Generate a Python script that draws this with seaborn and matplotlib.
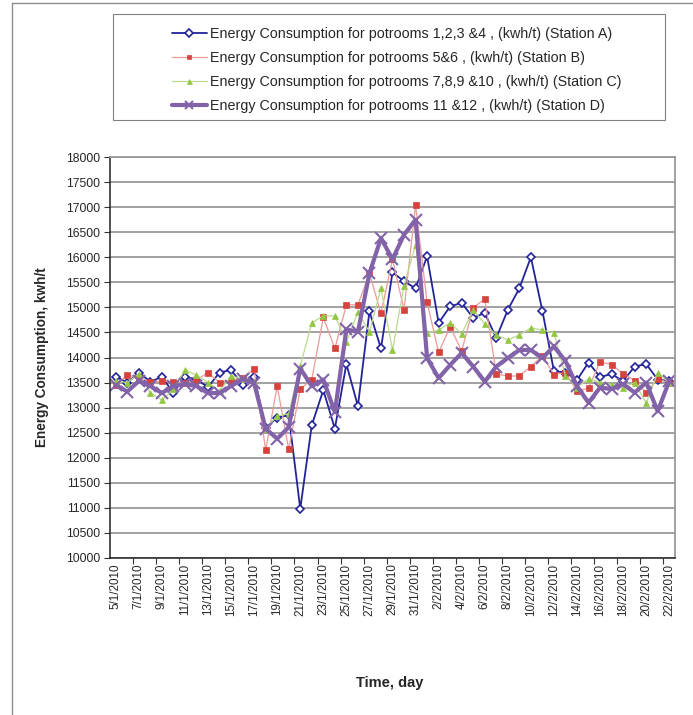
import matplotlib
matplotlib.use("Agg")
import matplotlib.pyplot as plt
from matplotlib.patches import Rectangle
from matplotlib.lines import Line2D
import seaborn as sns
import pandas as pd
import numpy as np

sns.set_theme(style="white")
plt.rcParams['font.family'] = ['Liberation Sans', 'DejaVu Sans']

# Daily dates, 5 Jan 2010 - 22 Feb 2010
dates = [
    "5/1/2010", "6/1/2010", "7/1/2010", "8/1/2010", "9/1/2010", "10/1/2010",
    "11/1/2010", "12/1/2010", "13/1/2010", "14/1/2010", "15/1/2010", "16/1/2010",
    "17/1/2010", "18/1/2010", "19/1/2010", "20/1/2010", "21/1/2010", "22/1/2010",
    "23/1/2010", "24/1/2010", "25/1/2010", "26/1/2010", "27/1/2010", "28/1/2010",
    "29/1/2010", "30/1/2010", "31/1/2010", "1/2/2010", "2/2/2010", "3/2/2010",
    "4/2/2010", "5/2/2010", "6/2/2010", "7/2/2010", "8/2/2010", "9/2/2010",
    "10/2/2010", "11/2/2010", "12/2/2010", "13/2/2010", "14/2/2010", "15/2/2010",
    "16/2/2010", "17/2/2010", "18/2/2010", "19/2/2010", "20/2/2010", "21/2/2010",
    "22/2/2010",
]

# Energy consumption, kwh/t
station_a = [
    13620, 13500, 13700, 13520, 13610, 13300, 13620, 13560, 13410, 13700,
    13750, 13460, 13620, 12600, 12800, 12850, 10980, 12650, 13350, 12580,
    13870, 13030, 14920, 14180, 15700, 15520, 15380, 16020, 14690, 15020,
    15090, 14790, 14890, 14390, 14950, 15380, 16000, 14930, 13730, 13700,
    13550, 13900, 13610, 13670, 13530, 13820, 13870, 13560, 13530,
]
station_b = [
    13450, 13650, 13600, 13510, 13530, 13510, 13500, 13550, 13700, 13500,
    13530, 13600, 13770, 12150, 13430, 12170, 13370, 13560, 14800, 14180,
    15050, 15050, 15680, 14880, 15960, 14950, 17040, 15100, 14100, 14610,
    14130, 14990, 15170, 13670, 13630, 13630, 13820, 14030, 13660, 13700,
    13330, 13390, 13910, 13860, 13680, 13540, 13300, 13570, 13500,
]
station_c = [
    13530, 13500, 13680, 13300, 13150, 13370, 13750, 13650, 13500, 13330,
    13630, 13580, 13510, 12580, 12830, 12880, 13830, 14690, 14830, 14830,
    14310, 14910, 14510, 15380, 14150, 15430, 16250, 14490, 14550, 14690,
    14470, 14950, 14670, 14450, 14350, 14450, 14590, 14550, 14490, 13640,
    13400, 13580, 13500, 13460, 13400, 13500, 13090, 13700, 13500,
]
station_d = [
    13450, 13320, 13530, 13430, 13290, 13430, 13470, 13430, 13290, 13290,
    13430, 13570, 13490, 12580, 12380, 12610, 13780, 13430, 13560, 12910,
    14560, 14510, 15680, 16380, 15960, 16450, 16750, 13990, 13590, 13850,
    14090, 13820, 13520, 13820, 13990, 14150, 14150, 13990, 14220, 13930,
    13430, 13100, 13400, 13370, 13470, 13300, 13500, 12930, 13530,
]

labels = [
    "Energy Consumption for potrooms 1,2,3 &4 , (kwh/t) (Station A)",
    "Energy Consumption for potrooms 5&6 , (kwh/t) (Station B)",
    "Energy Consumption for potrooms 7,8,9 &10 , (kwh/t) (Station C)",
    "Energy Consumption for potrooms 11 &12 , (kwh/t) (Station D)",
]

df = pd.DataFrame({
    "day": np.arange(len(dates)),
    "A": station_a, "B": station_b, "C": station_c, "D": station_d,
})

W, H = 693, 715
fig = plt.figure(figsize=(W / 100, H / 100), dpi=100)
ax = fig.add_axes([110 / W, 1 - 558 / H, (675 - 110) / W, (558 - 157) / H])

styles = {
    "A": dict(color="#23239A", lw=1.3, marker="D", ms=4.5, mfc="white",
              mec="#23239A", mew=1.2),
    "B": dict(color="#EC9A98", lw=0.9, marker="s", ms=4.0, mfc="#D6423C",
              mec="#D6423C", mew=0.5),
    "C": dict(color="#B9DA8E", lw=0.9, marker="^", ms=4.5, mfc="#93C742",
              mec="#93C742", mew=0.5),
    "D": dict(color="#8263A9", lw=3.0, marker="x", ms=8, mfc="#8263A9",
              mec="#8263A9", mew=1.5),
}

handles = []
for key, lab in zip(["A", "B", "C", "D"], labels):
    st = styles[key]
    sns.lineplot(data=df, x="day", y=key, ax=ax, color=st["color"],
                 linewidth=st["lw"], marker=st["marker"], markersize=st["ms"],
                 markerfacecolor=st["mfc"], markeredgecolor=st["mec"],
                 markeredgewidth=st["mew"], label=lab, legend=False)
    handles.append(Line2D([], [], color=st["color"], lw=st["lw"],
                          marker=st["marker"], ms=st["ms"] * 0.8,
                          mfc=st["mfc"], mec=st["mec"], mew=st["mew"]))

# Axes ranges and ticks
ax.set_xlim(-0.5, len(dates) - 0.5)
ax.set_ylim(10000, 18000)
ax.set_yticks(np.arange(10000, 18001, 500))
ax.set_yticklabels([str(v) for v in range(10000, 18001, 500)], fontsize=8.8)
ax.set_xticks(np.arange(0, len(dates), 2))
ax.set_xticklabels(dates[::2], rotation=90, fontsize=8.4)
ax.set_xticks(np.arange(1.5, len(dates), 2), minor=True)
ax.tick_params(axis="x", which="major", length=0, pad=4)
ax.tick_params(axis="x", which="minor", length=4, width=0.8, color="#333333",
               direction="out", bottom=True)
ax.tick_params(axis="y", which="major", length=4, width=0.8, color="#333333",
               direction="out", left=True, pad=3)

ax.yaxis.grid(True, color="#9A9A9A", lw=1.3)
ax.xaxis.grid(False)
ax.set_axisbelow(True)
for side in ["left", "bottom"]:
    ax.spines[side].set_color("#222222")
    ax.spines[side].set_linewidth(1.1)
for side in ["top", "right"]:
    ax.spines[side].set_color("#9A9A9A")
    ax.spines[side].set_linewidth(1.3)

ax.set_xlabel("")
ax.set_ylabel("Energy Consumption, kwh/t", fontsize=9.8, fontweight="bold",
              labelpad=12)
fig.text(390 / W, 1 - 683 / H, "Time, day", fontsize=10.5, fontweight="bold",
         ha="center", va="center")

# Legend above the plot area
fig.legend(handles, labels, loc="center", bbox_to_anchor=(397 / W, 1 - 70 / H),
           frameon=False, fontsize=10.3, handlelength=2.4, handletextpad=0.25,
           labelspacing=0.72)
fig.patches.append(Rectangle((113 / W, 1 - 120 / H), (665 - 113) / W,
                             (120 - 14) / H, transform=fig.transFigure,
                             fill=False, edgecolor="#808080", lw=0.8))

# Outer chart frame (top and left edges)
fig.lines.append(Line2D([12 / W, 1], [1 - 3 / H, 1 - 3 / H],
                        transform=fig.transFigure, color="#8C8C8C", lw=1.0))
fig.lines.append(Line2D([12 / W, 12 / W], [0, 1 - 3 / H],
                        transform=fig.transFigure, color="#8C8C8C", lw=1.0))

fig.savefig("out.png", dpi=100, facecolor="white")
